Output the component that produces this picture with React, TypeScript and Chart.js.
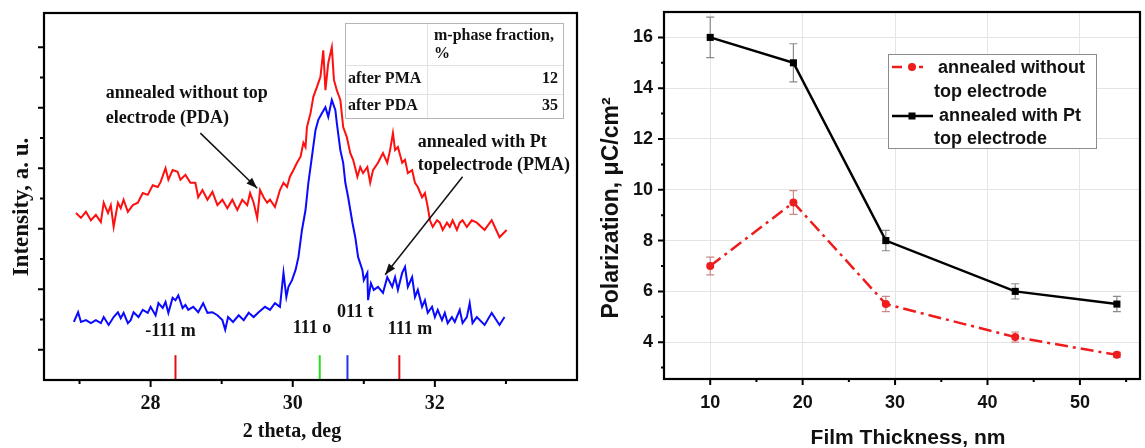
import React, { useEffect, useRef } from "react";
import { Chart, registerables } from "chart.js";
Chart.register(...registerables);

// ---------- Left panel: XRD patterns ----------
const twoThetaPDA = [
  26.95, 27.02, 27.09, 27.16, 27.23, 27.3, 27.34, 27.4, 27.44, 27.48,
  27.54, 27.58, 27.62, 27.68, 27.75, 27.82, 27.89, 27.96, 28.03, 28.1,
  28.14, 28.21, 28.25, 28.31, 28.38, 28.42, 28.49, 28.56, 28.63, 28.67,
  28.73, 28.8, 28.87, 28.94, 29.01, 29.08, 29.15, 29.22, 29.29, 29.36,
  29.4, 29.45, 29.5, 29.54, 29.59, 29.64, 29.68, 29.75, 29.82, 29.87,
  29.92, 29.96, 30.01, 30.06, 30.11, 30.15, 30.18, 30.2, 30.25, 30.29,
  30.34, 30.39, 30.43, 30.46, 30.5, 30.55, 30.58, 30.62, 30.67, 30.71,
  30.76, 30.81, 30.85, 30.91, 30.95, 30.99, 31.05, 31.09, 31.13, 31.2,
  31.27, 31.33, 31.37, 31.41, 31.44, 31.48, 31.54, 31.58, 31.62, 31.68,
  31.72, 31.76, 31.82, 31.86, 31.9, 31.93, 31.97, 32.03, 32.07, 32.11,
  32.17, 32.21, 32.25, 32.31, 32.35, 32.39, 32.45, 32.52, 32.59, 32.7,
  32.8, 32.91, 33.01,
];
const intensityPDA = [
  2.76, 2.68, 2.78, 2.64, 2.73, 2.61, 2.93, 2.76, 2.89, 2.53,
  2.93, 2.84, 2.98, 2.78, 2.89, 2.93, 3.09, 3.06, 3.22, 3.19,
  3.27, 3.5, 3.31, 3.47, 3.44, 3.31, 3.39, 3.26, 3.26, 3.02,
  3.14, 2.98, 3.11, 2.89, 2.98, 2.84, 2.98, 2.81, 2.98, 2.89,
  3.09, 2.93, 2.68, 3.14, 3.02, 2.93, 2.98, 2.86, 3.14, 3.26,
  3.19, 3.36, 3.47, 3.59, 3.69, 3.92, 3.85, 4.18, 4.41, 4.68,
  4.84, 5.01, 5.45, 4.79, 5.24, 5.5, 4.96, 4.79, 4.63, 4.18,
  4.02, 3.75, 3.64, 3.36, 3.52, 3.42, 3.52, 3.26, 3.47, 3.59,
  3.75, 3.59, 3.8, 4.08, 3.8, 3.85, 3.59, 3.64, 3.42, 3.47,
  3.26, 3.19, 3.02, 3.09, 2.86, 2.64, 2.53, 2.64, 2.6, 2.48,
  2.6, 2.53, 2.64, 2.48, 2.6, 2.64, 2.53, 2.64, 2.6, 2.48,
  2.64, 2.36, 2.48,
];
const twoThetaPMA = [
  26.92, 26.98, 27.02, 27.09, 27.16, 27.23, 27.3, 27.34, 27.41, 27.48,
  27.54, 27.58, 27.62, 27.68, 27.72, 27.76, 27.83, 27.89, 27.96, 28.0,
  28.07, 28.11, 28.17, 28.21, 28.25, 28.31, 28.35, 28.39, 28.45, 28.49,
  28.53, 28.6, 28.67, 28.74, 28.8, 28.87, 28.94, 29.01, 29.05, 29.09,
  29.16, 29.24, 29.31, 29.38, 29.45, 29.52, 29.61, 29.68, 29.75, 29.82,
  29.87, 29.91, 29.94, 29.99, 30.04, 30.08, 30.13, 30.18, 30.22, 30.27,
  30.32, 30.36, 30.41, 30.46, 30.5, 30.55, 30.6, 30.62, 30.67, 30.71,
  30.74, 30.78, 30.84, 30.88, 30.92, 30.98, 31.0, 31.05, 31.06, 31.1,
  31.14, 31.2, 31.27, 31.33, 31.4, 31.44, 31.48, 31.54, 31.58, 31.62,
  31.68, 31.72, 31.76, 31.82, 31.86, 31.9, 31.96, 32.0, 32.04, 32.1,
  32.14, 32.18, 32.24, 32.28, 32.35, 32.39, 32.45, 32.49, 32.53, 32.59,
  32.7, 32.8, 32.91, 32.98,
];
const intensityPMA = [
  0.96, 1.12, 0.96, 0.99, 0.94, 0.99, 0.94, 1.04, 0.91, 1.04,
  1.12, 1.02, 1.11, 0.94, 0.99, 1.12, 1.04, 1.16, 1.11, 1.21,
  1.07, 1.27, 1.19, 1.29, 1.11, 1.36, 1.32, 1.4, 1.19, 1.24,
  1.16, 1.21, 1.12, 1.27, 1.11, 1.12, 1.07, 0.99, 0.83, 1.04,
  0.96, 1.07, 0.99, 1.11, 1.04, 1.12, 1.21, 1.16, 1.27, 1.21,
  1.77, 1.37, 1.54, 1.65, 1.82, 2.03, 2.48, 2.81, 3.26, 3.69,
  4.13, 4.3, 4.41, 4.51, 4.35, 4.63, 4.46, 4.25, 3.8, 3.59,
  3.26, 3.02, 2.6, 2.36, 2.03, 1.82, 1.65, 1.77, 1.32, 1.6,
  1.49, 1.54, 1.44, 1.7, 1.54, 1.7, 1.49, 1.77, 1.87, 1.54,
  1.7, 1.37, 1.49, 1.21, 1.32, 1.11, 1.21, 1.04, 1.16, 0.99,
  1.11, 0.94, 1.04, 0.96, 1.16, 0.94, 1.04, 1.27, 0.94, 1.04,
  0.91, 1.11, 0.91, 1.04,
];
const refPositions = [28.35, 30.38, 30.77, 31.5];
const refColors = ["#e01010", "#22dd22", "#2233ee", "#e01010"];
const refHeight = 0.41;
const peakLabels = ["-111 m", "111 o", "011 t", "111 m"];
const peakLabelX = [28.28, 30.27, 30.88, 31.65];
const peakLabelY = [0.81, 0.86, 1.11, 0.83];
const xrdMajorTicks = [28, 30, 32];
const xrdMinorTicks = [27, 29, 31, 33];
const intensityMajorTicks = [0.5, 1.5, 2.5, 3.5, 4.5, 5.5];
const intensityMinorTicks = [1, 2, 3, 4, 5];
const pdaNote = ["annealed without top", "electrode (PDA)"];
const pdaNoteX = 27.37;
const pdaNoteY = [4.73, 4.33];
const pdaArrow = [28.7, 4.08, 29.5, 3.17];
const pmaNote = ["annealed with Pt", "topelectrode (PMA)"];
const pmaNoteX = 31.76;
const pmaNoteY = [3.93, 3.54];
const pmaArrow = [32.39, 3.36, 31.3, 1.74];
const tableHeader = ["m-phase fraction,", "%"];
const tableRows = ["after PMA", "after PDA"];
const tableValues = ["12", "35"];

// ---------- Right panel: polarization ----------
const thickness = [10, 19, 29, 43, 54];
const polNoTop = [7, 9.5, 5.5, 4.2, 3.5];
const errNoTop = [0.35, 0.47, 0.3, 0.2, 0.1];
const polPt = [16, 15, 8, 6, 5.5];
const errPt = [0.8, 0.75, 0.4, 0.3, 0.3];
const thicknessMajor = [10, 20, 30, 40, 50];
const thicknessMinor = [15, 25, 35, 45, 55];
const polMajor = [4, 6, 8, 10, 12, 14, 16];
const polMinor = [3, 5, 7, 9, 11, 13, 15];
const legendLabels = [
  ["annealed without", "top electrode"],
  ["annealed with Pt", "top electrode"],
];

const SERIF = "'Liberation Serif', 'Times New Roman', serif";
const SANS = "'Liberation Sans', Arial, sans-serif";

function drawTickMarks(ctx: any, scale: any, area: any, axis: string, values: number[], len: number) {
  ctx.beginPath();
  values.forEach((v) => {
    const p = scale.getPixelForValue(v);
    if (axis === "x") {
      ctx.moveTo(p, area.bottom);
      ctx.lineTo(p, area.bottom + len);
    } else {
      ctx.moveTo(area.left, p);
      ctx.lineTo(area.left - len, p);
    }
  });
  ctx.stroke();
}

function arrow(ctx: any, x1: number, y1: number, x2: number, y2: number) {
  ctx.beginPath();
  ctx.moveTo(x1, y1);
  ctx.lineTo(x2, y2);
  ctx.stroke();
  const ang = Math.atan2(y2 - y1, x2 - x1);
  const L = 11, W = 4;
  ctx.beginPath();
  ctx.moveTo(x2, y2);
  ctx.lineTo(x2 - L * Math.cos(ang) + W * Math.sin(ang), y2 - L * Math.sin(ang) - W * Math.cos(ang));
  ctx.lineTo(x2 - L * Math.cos(ang) - W * Math.sin(ang), y2 - L * Math.sin(ang) + W * Math.cos(ang));
  ctx.closePath();
  ctx.fill();
}

function noPad(s: any) {
  s.paddingTop = 0;
  s.paddingBottom = 0;
  s.paddingLeft = 0;
  s.paddingRight = 0;
}

function XrdChart() {
  const ref = useRef<HTMLCanvasElement>(null);
  useEffect(() => {
    const canvas = ref.current!;
    const decor = {
      id: "xrdDecor",
      afterDatasetsDraw(chart: any) {
        const { ctx, chartArea: a, scales } = chart;
        const xs = scales.x, ys = scales.y;
        ctx.save();
        // peak labels
        ctx.fillStyle = "#111";
        ctx.font = `bold 18px ${SERIF}`;
        ctx.textAlign = "center";
        ctx.textBaseline = "middle";
        peakLabels.forEach((t, i) => {
          ctx.fillText(t, xs.getPixelForValue(peakLabelX[i]), ys.getPixelForValue(peakLabelY[i]));
        });
        // notes
        ctx.textAlign = "left";
        pdaNote.forEach((t, i) => {
          ctx.fillText(t, xs.getPixelForValue(pdaNoteX), ys.getPixelForValue(pdaNoteY[i]));
        });
        pmaNote.forEach((t, i) => {
          ctx.fillText(t, xs.getPixelForValue(pmaNoteX), ys.getPixelForValue(pmaNoteY[i]));
        });
        ctx.strokeStyle = "#111";
        ctx.fillStyle = "#111";
        ctx.lineWidth = 1.5;
        arrow(ctx, xs.getPixelForValue(pdaArrow[0]), ys.getPixelForValue(pdaArrow[1]),
          xs.getPixelForValue(pdaArrow[2]), ys.getPixelForValue(pdaArrow[3]));
        arrow(ctx, xs.getPixelForValue(pmaArrow[0]), ys.getPixelForValue(pmaArrow[1]),
          xs.getPixelForValue(pmaArrow[2]), ys.getPixelForValue(pmaArrow[3]));
        // table
        const tx = 345, ty = 23, tw = 218, th = 95;
        ctx.fillStyle = "#fff";
        ctx.fillRect(tx, ty, tw, th);
        ctx.strokeStyle = "#e2e2e2";
        ctx.lineWidth = 1;
        ctx.beginPath();
        ctx.moveTo(tx, 65.5); ctx.lineTo(tx + tw, 65.5);
        ctx.moveTo(tx, 94.5); ctx.lineTo(tx + tw, 94.5);
        ctx.moveTo(427.5, ty); ctx.lineTo(427.5, ty + th);
        ctx.stroke();
        ctx.strokeStyle = "#b5b5b5";
        ctx.strokeRect(tx + 0.5, ty + 0.5, tw, th);
        ctx.fillStyle = "#111";
        ctx.font = `bold 16px ${SERIF}`;
        ctx.textAlign = "left";
        ctx.fillText(tableHeader[0], 434, 36);
        ctx.fillText(tableHeader[1], 434, 54);
        tableRows.forEach((t, i) => ctx.fillText(t, 348, 79 + i * 27));
        ctx.textAlign = "right";
        tableValues.forEach((t, i) => ctx.fillText(t, 558, 79 + i * 27));
        // frame
        ctx.strokeStyle = "#000";
        ctx.lineWidth = 2.2;
        ctx.strokeRect(a.left, a.top, a.right - a.left, a.bottom - a.top);
        ctx.lineWidth = 2;
        drawTickMarks(ctx, xs, a, "x", xrdMajorTicks, 7);
        drawTickMarks(ctx, xs, a, "x", xrdMinorTicks, 4);
        drawTickMarks(ctx, ys, a, "y", intensityMajorTicks, 6);
        drawTickMarks(ctx, ys, a, "y", intensityMinorTicks, 4);
        // axis titles
        ctx.fillStyle = "#111";
        ctx.textAlign = "center";
        ctx.font = `bold 20px ${SERIF}`;
        ctx.fillText("2 theta, deg", 292, 432);
        ctx.translate(22, 207);
        ctx.rotate(-Math.PI / 2);
        ctx.font = `bold 23px ${SERIF}`;
        ctx.fillText("Intensity, a. u.", 0, 0);
        ctx.restore();
      },
    };
    const datasets: any[] = [
      {
        label: "annealed without top electrode (PDA)",
        data: twoThetaPDA.map((x, i) => ({ x, y: intensityPDA[i] })),
        borderColor: "#ff1010",
        borderWidth: 2,
        pointRadius: 0,
        showLine: true,
      },
      {
        label: "annealed with Pt top electrode (PMA)",
        data: twoThetaPMA.map((x, i) => ({ x, y: intensityPMA[i] })),
        borderColor: "#0a0aff",
        borderWidth: 2,
        pointRadius: 0,
        showLine: true,
      },
      ...refPositions.map((p, i) => ({
        label: peakLabels[i],
        data: [{ x: p, y: 0 }, { x: p, y: refHeight }],
        borderColor: refColors[i],
        borderWidth: 2,
        pointRadius: 0,
        showLine: true,
      })),
    ];
    const chart = new Chart(canvas, {
      type: "scatter",
      data: { datasets },
      options: {
        responsive: false,
        animation: false,
        devicePixelRatio: 1,
        layout: { padding: { top: 13, right: 13, left: 0, bottom: 0 } },
        plugins: { legend: { display: false }, tooltip: { enabled: false } },
        scales: {
          x: {
            type: "linear",
            min: 26.5,
            max: 34,
            afterFit: (s: any) => { s.height = 68; noPad(s); },
            afterBuildTicks: (s: any) => { s.ticks = xrdMajorTicks.map((v) => ({ value: v })); },
            ticks: { color: "#111", font: { family: SERIF, size: 20, weight: "bold" }, padding: 12, maxRotation: 0, autoSkip: false },
            grid: { display: false, drawTicks: false },
            border: { display: false },
          },
          y: {
            type: "linear",
            min: 0,
            max: 6.066,
            afterFit: (s: any) => { s.width = 44; noPad(s); },
            ticks: { display: false },
            grid: { display: false, drawTicks: false },
            border: { display: false },
          },
        },
      },
      plugins: [decor],
    } as any);
    return () => chart.destroy();
  }, []);
  return <canvas ref={ref} width={590} height={448} style={{ position: "absolute", left: 0, top: 0 }} />;
}

function PolarizationChart() {
  const ref = useRef<HTMLCanvasElement>(null);
  useEffect(() => {
    const canvas = ref.current!;
    const red = "#ee1c1c";
    const errPlugin = {
      id: "errBars",
      beforeDatasetsDraw(chart: any) {
        const { ctx, scales } = chart;
        const xs = scales.x, ys = scales.y;
        ctx.save();
        ctx.lineWidth = 1.2;
        const series: [number[], number[], string][] = [
          [polNoTop, errNoTop, "#cc8888"],
          [polPt, errPt, "#8a8a8a"],
        ];
        series.forEach(([vals, errs, col]) => {
          ctx.strokeStyle = col;
          ctx.beginPath();
          thickness.forEach((t, i) => {
            const px = xs.getPixelForValue(t);
            const top = ys.getPixelForValue(vals[i] + errs[i]);
            const bot = ys.getPixelForValue(vals[i] - errs[i]);
            ctx.moveTo(px, top); ctx.lineTo(px, bot);
            ctx.moveTo(px - 4, top); ctx.lineTo(px + 4, top);
            ctx.moveTo(px - 4, bot); ctx.lineTo(px + 4, bot);
          });
          ctx.stroke();
        });
        ctx.restore();
      },
      afterDraw(chart: any) {
        const { ctx, chartArea: a, scales } = chart;
        const xs = scales.x, ys = scales.y;
        ctx.save();
        ctx.strokeStyle = "#000";
        ctx.lineWidth = 2.2;
        ctx.strokeRect(a.left, a.top, a.right - a.left, a.bottom - a.top);
        ctx.lineWidth = 2;
        drawTickMarks(ctx, xs, a, "x", thicknessMajor, 6);
        drawTickMarks(ctx, xs, a, "x", thicknessMinor, 3);
        drawTickMarks(ctx, ys, a, "y", polMajor, 6);
        drawTickMarks(ctx, ys, a, "y", polMinor, 3);
        // legend
        const lx = 288, ly = 54, lw = 208, lh = 94;
        ctx.fillStyle = "#fff";
        ctx.fillRect(lx, ly, lw, lh);
        ctx.strokeStyle = "#8c8c8c";
        ctx.lineWidth = 1;
        ctx.strokeRect(lx + 0.5, ly + 0.5, lw, lh);
        // symbol row 1
        ctx.strokeStyle = red;
        ctx.lineWidth = 2.5;
        ctx.beginPath();
        ctx.moveTo(292, 67); ctx.lineTo(302, 67);
        ctx.moveTo(319, 67); ctx.lineTo(323, 67);
        ctx.stroke();
        ctx.fillStyle = red;
        ctx.beginPath();
        ctx.arc(312, 67, 4, 0, Math.PI * 2);
        ctx.fill();
        // symbol row 3
        ctx.strokeStyle = "#000";
        ctx.beginPath();
        ctx.moveTo(292, 116); ctx.lineTo(333, 116);
        ctx.stroke();
        ctx.fillStyle = "#000";
        ctx.fillRect(308.5, 112.5, 7, 7);
        ctx.fillStyle = "#111";
        ctx.font = `bold 18px ${SANS}`;
        ctx.textAlign = "left";
        ctx.textBaseline = "middle";
        ctx.fillText(legendLabels[0][0], 338, 68);
        ctx.fillText(legendLabels[0][1], 334, 92);
        ctx.fillText(legendLabels[1][0], 339, 116);
        ctx.fillText(legendLabels[1][1], 334, 139);
        // titles
        ctx.textAlign = "center";
        ctx.font = `bold 21px ${SANS}`;
        ctx.fillText("Film Thickness, nm", 308, 438);
        ctx.translate(12, 208);
        ctx.rotate(-Math.PI / 2);
        ctx.font = `bold 23px ${SANS}`;
        ctx.fillText("Polarization, \u03bcC/cm\u00b2", 0, 0);
        ctx.restore();
      },
    };
    const chart = new Chart(canvas, {
      type: "scatter",
      data: {
        datasets: [
          {
            label: "annealed without top electrode",
            data: thickness.map((x, i) => ({ x, y: polNoTop[i] })),
            showLine: true,
            borderColor: red,
            borderWidth: 2.5,
            borderDash: [13, 5, 3, 5],
            pointStyle: "circle",
            pointRadius: 4,
            pointBackgroundColor: red,
            pointBorderWidth: 0,
          },
          {
            label: "annealed with Pt top electrode",
            data: thickness.map((x, i) => ({ x, y: polPt[i] })),
            showLine: true,
            borderColor: "#000",
            borderWidth: 2.5,
            pointStyle: "rect",
            pointRadius: 5,
            pointBackgroundColor: "#000",
            pointBorderWidth: 0,
          },
        ],
      },
      options: {
        responsive: false,
        animation: false,
        devicePixelRatio: 1,
        layout: { padding: { top: 12, right: 3, left: 0, bottom: 0 } },
        plugins: { legend: { display: false }, tooltip: { enabled: false } },
        scales: {
          x: {
            type: "linear",
            min: 5,
            max: 56.5,
            afterFit: (s: any) => { s.height = 69; noPad(s); },
            afterBuildTicks: (s: any) => { s.ticks = thicknessMajor.map((v) => ({ value: v })); },
            ticks: { color: "#111", font: { family: SANS, size: 18, weight: "bold" }, padding: 13, maxRotation: 0, autoSkip: false },
            grid: { color: "#e4e4e4", lineWidth: 1, drawTicks: false },
            border: { display: false },
          },
          y: {
            type: "linear",
            min: 2.55,
            max: 17,
            afterFit: (s: any) => { s.width = 64; noPad(s); },
            afterBuildTicks: (s: any) => { s.ticks = polMajor.map((v) => ({ value: v })); },
            ticks: { color: "#111", font: { family: SANS, size: 18, weight: "bold" }, padding: 11, autoSkip: false },
            grid: { color: "#e4e4e4", lineWidth: 1, drawTicks: false },
            border: { display: false },
          },
        },
      },
      plugins: [errPlugin],
    } as any);
    return () => chart.destroy();
  }, []);
  return <canvas ref={ref} width={545} height={448} style={{ position: "absolute", left: 600, top: 0 }} />;
}

export default function App() {
  return (
    <div style={{ position: "fixed", left: 0, top: 0, width: 1145, height: 448, background: "#fff", overflow: "hidden" }}>
      <XrdChart />
      <PolarizationChart />
    </div>
  );
}
